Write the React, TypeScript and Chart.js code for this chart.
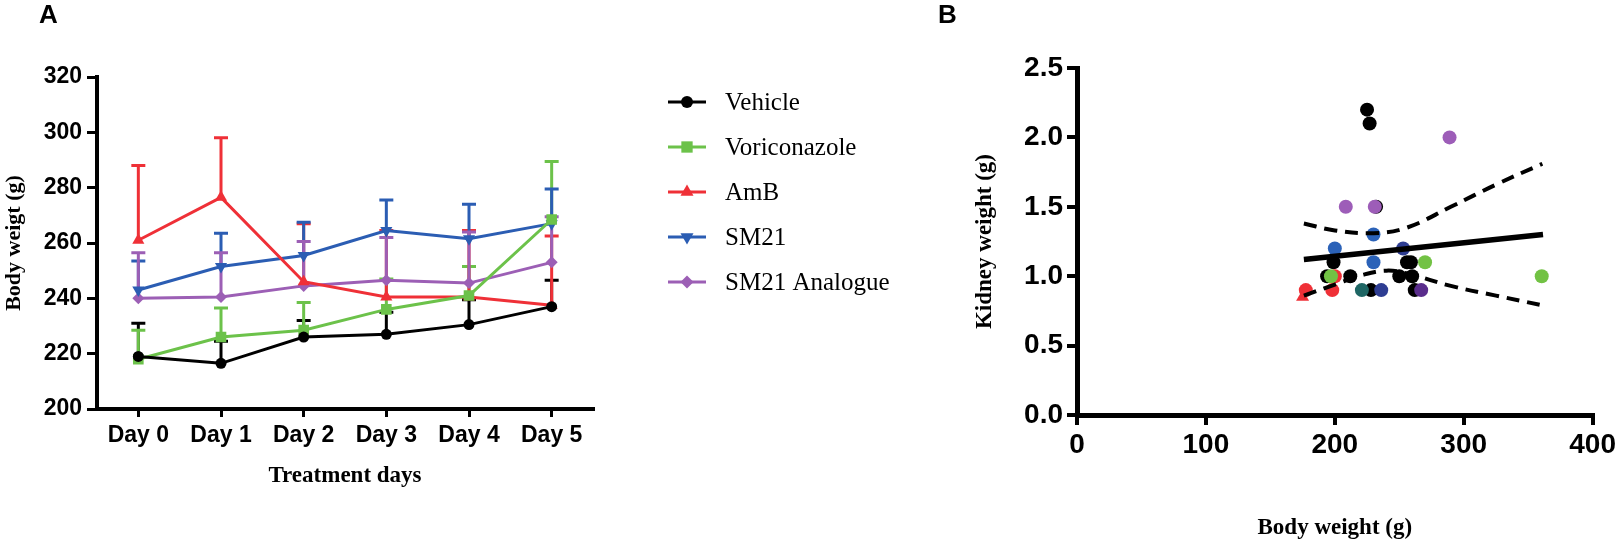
import React, { useEffect, useRef } from 'react';
import { Chart, registerables } from 'chart.js';
import { drawPoint } from 'chart.js/helpers';

Chart.register(...registerables);

// ---------- Panel A data ----------
const days = ['Day 0', 'Day 1', 'Day 2', 'Day 3', 'Day 4', 'Day 5'];
const yTicksA = [200, 220, 240, 260, 280, 300, 320];

const vehicleMean = [219, 216.5, 226, 227, 230.5, 237];
const vehicleErr = [12, 8, 6, 8, 9, 9.5];

const voriMean = [218, 226, 228.5, 236, 241, 268.5];
const voriErr = [10.5, 10.5, 10, 11, 10.5, 21];

const ambMean = [261, 276.5, 246, 240.5, 240.5, 237.5];
const ambErr = [27, 21.5, 21, 24, 24, 25];

const sm21Mean = [243, 251.5, 255.5, 264.5, 261.5, 267];
const sm21Err = [10.5, 12, 12, 11, 12.5, 12.5];

const analogueMean = [240, 240.5, 244.5, 246.5, 245.5, 253];
const analogueErr = [16.5, 16, 16, 15.5, 18.5, 16.5];

const seriesNames = ['Vehicle', 'Voriconazole', 'AmB', 'SM21', 'SM21 Analogue'];

// ---------- Panel B data ----------
const xTicksB = [0, 100, 200, 300, 400];
const yTicksB = [0, 0.5, 1.0, 1.5, 2.0, 2.5];

const blackX = [225, 227, 232, 199, 256, 259, 194, 212, 250, 260, 228, 262];
const blackY = [2.2, 2.1, 1.5, 1.1, 1.1, 1.1, 1.0, 1.0, 1.0, 1.0, 0.9, 0.9];

const purpleX = [289, 208.5, 231];
const purpleY = [2.0, 1.5, 1.5];

const blueX = [230, 200, 230];
const blueY = [1.3, 1.2, 1.1];

const darkBlueX = [253, 236];
const darkBlueY = [1.2, 0.9];

const greenX = [197, 270, 360.5];
const greenY = [1.0, 1.1, 1.0];

const redX = [177.5, 198, 200];
const redY = [0.9, 0.9, 1.0];

const tealX = [221];
const tealY = [0.9];

const darkPurpleX = [267];
const darkPurpleY = [0.9];

const redTriX = [175];
const redTriY = [0.85];

const fitX = [176, 361.5];
const fitY = [1.12, 1.3];

const upperCIX = [176, 200, 230, 256, 290, 325, 361];
const upperCIY = [1.38, 1.33, 1.31, 1.35, 1.5, 1.66, 1.81];

const lowerCIX = [176, 200, 222, 240, 256, 290, 325, 361];
const lowerCIY = [0.86, 0.94, 1.01, 1.04, 1.02, 0.93, 0.86, 0.79];

const toPts = (xs: number[], ys: number[]) => xs.map((x, i) => ({ x, y: ys[i] }));

const SANS = "'Liberation Sans', Arial, Helvetica, sans-serif";
const SERIF = "'Liberation Serif', 'Times New Roman', serif";

const errorBarPlugin = {
  id: 'errorBars',
  beforeDatasetsDraw(chart: any) {
    const { ctx } = chart;
    const xs = chart.scales.x;
    const ys = chart.scales.y;
    chart.data.datasets.forEach((ds: any) => {
      if (!ds.errors) return;
      ctx.save();
      ctx.strokeStyle = ds.borderColor;
      ctx.lineWidth = 3;
      ds.data.forEach((v: number, i: number) => {
        const x = xs.getPixelForValue(i);
        const y0 = ys.getPixelForValue(v);
        const y1 = ys.getPixelForValue(v + ds.errors[i]);
        ctx.beginPath();
        ctx.moveTo(x, y0);
        ctx.lineTo(x, y1);
        ctx.moveTo(x - 7, y1);
        ctx.lineTo(x + 7, y1);
        ctx.stroke();
      });
      ctx.restore();
    });
  },
};

const sideLegendPlugin = {
  id: 'sideLegend',
  afterDraw(chart: any) {
    const { ctx } = chart;
    const list = [...chart.data.datasets].sort((a: any, b: any) => a.legendIndex - b.legendIndex);
    list.forEach((ds: any, i: number) => {
      const y = 102 + i * 45;
      ctx.save();
      ctx.strokeStyle = ds.borderColor;
      ctx.lineWidth = 3;
      ctx.beginPath();
      ctx.moveTo(668, y);
      ctx.lineTo(706, y);
      ctx.stroke();
      ctx.fillStyle = ds.pointBackgroundColor;
      ctx.strokeStyle = ds.pointBackgroundColor;
      drawPoint(
        ctx,
        { pointStyle: ds.pointStyle, radius: ds.pointRadius + 0.5, rotation: ds.pointRotation || 0, borderWidth: 0 },
        687,
        y
      );
      ctx.fillStyle = '#000';
      ctx.font = `25px ${SERIF}`;
      ctx.textBaseline = 'middle';
      ctx.textAlign = 'left';
      ctx.fillText(ds.label, 725, y + 1);
      ctx.restore();
    });
  },
};

function ChartA() {
  const ref = useRef<HTMLCanvasElement>(null);
  useEffect(() => {
    const styles = [
      { color: '#000000', pointStyle: 'circle', radius: 5.5, rotation: 0, order: 0 },
      { color: '#6cc24a', pointStyle: 'rect', radius: 7.5, rotation: 0, order: 1 },
      { color: '#ef3037', pointStyle: 'triangle', radius: 7, rotation: 0, order: 2 },
      { color: '#2b5db3', pointStyle: 'triangle', radius: 7, rotation: 180, order: 3 },
      { color: '#9c5fb5', pointStyle: 'rectRot', radius: 6, rotation: 0, order: 4 },
    ];
    const means = [vehicleMean, voriMean, ambMean, sm21Mean, analogueMean];
    const errs = [vehicleErr, voriErr, ambErr, sm21Err, analogueErr];
    const datasets = seriesNames.map((name, i) => ({
      label: name,
      data: means[i],
      errors: errs[i],
      legendIndex: i,
      order: styles[i].order,
      borderColor: styles[i].color,
      backgroundColor: styles[i].color,
      pointBackgroundColor: styles[i].color,
      pointBorderColor: styles[i].color,
      pointBorderWidth: 0,
      pointStyle: styles[i].pointStyle,
      pointRadius: styles[i].radius,
      pointRotation: styles[i].rotation,
      borderWidth: 3,
      tension: 0,
      fill: false,
    }));
    const chart = new Chart(ref.current!, {
      type: 'line',
      data: { labels: days, datasets: datasets as any },
      options: {
        responsive: false,
        animation: false,
        devicePixelRatio: 1,
        layout: { padding: { top: 77, left: 0, right: 337, bottom: 0 } },
        plugins: { legend: { display: false }, tooltip: { enabled: false } },
        scales: {
          x: {
            offset: true,
            border: { color: '#000', width: 4 },
            grid: { drawOnChartArea: false, color: '#000', lineWidth: 3, tickLength: 8, offset: false },
            ticks: {
              color: '#000',
              font: { family: SANS, weight: 'bold', size: 23 },
              padding: 5,
              maxRotation: 0,
              autoSkip: false,
            },
            title: {
              display: true,
              text: 'Treatment days',
              color: '#000',
              font: { family: SERIF, weight: 'bold', size: 23 },
              padding: { top: 4, bottom: 53 },
            },
            afterFit(scale: any) {
              scale.height = 134;
            },
          },
          y: {
            min: yTicksA[0],
            max: yTicksA[yTicksA.length - 1],
            border: { color: '#000', width: 4 },
            grid: { drawOnChartArea: false, color: '#000', lineWidth: 3, tickLength: 10 },
            afterBuildTicks(scale: any) {
              scale.ticks = yTicksA.map((v) => ({ value: v }));
            },
            ticks: {
              color: '#000',
              font: { family: SANS, weight: 'bold', size: 23 },
              padding: 5,
            },
            title: {
              display: true,
              text: 'Body weigt (g)',
              color: '#000',
              font: { family: SERIF, weight: 'bold', size: 22 },
              padding: { top: 1, bottom: 4 },
            },
            afterFit(scale: any) {
              scale.width = 97;
            },
          },
        },
      } as any,
      plugins: [errorBarPlugin, sideLegendPlugin],
    });
    return () => chart.destroy();
  }, []);
  return (
    <canvas
      ref={ref}
      width={930}
      height={543}
      style={{ position: 'absolute', left: 0, top: 0, width: 930, height: 543 }}
    />
  );
}

function ChartB() {
  const ref = useRef<HTMLCanvasElement>(null);
  useEffect(() => {
    const dot = (xs: number[], ys: number[], color: string, style = 'circle') => ({
      type: 'scatter',
      data: toPts(xs, ys),
      backgroundColor: color,
      borderColor: color,
      pointBackgroundColor: color,
      pointBorderWidth: 0,
      pointRadius: style === 'triangle' ? 7.5 : 7,
      pointStyle: style,
      showLine: false,
    });
    const line = (xs: number[], ys: number[], dashed: boolean) => ({
      type: 'scatter',
      data: toPts(xs, ys),
      showLine: true,
      borderColor: '#000',
      borderWidth: dashed ? 4 : 5.5,
      borderDash: dashed ? [13, 8] : [],
      pointRadius: 0,
      tension: dashed ? 0.4 : 0,
      fill: false,
    });
    // Chart.js paints the first dataset on top, so the lines come first here.
    const chart = new Chart(ref.current!, {
      type: 'scatter',
      data: {
        datasets: [
          line(fitX, fitY, false),
          line(upperCIX, upperCIY, true),
          line(lowerCIX, lowerCIY, true),
          dot(redTriX, redTriY, '#ef3037', 'triangle'),
          dot(darkPurpleX, darkPurpleY, '#5a2d8c'),
          dot(purpleX, purpleY, '#9d5db8'),
          dot(greenX, greenY, '#72c244'),
          dot(blueX, blueY, '#2b62b8'),
          dot(darkBlueX, darkBlueY, '#2e3d92'),
          dot(redX, redY, '#ef3037'),
          dot(tealX, tealY, '#1e6664'),
          dot(blackX, blackY, '#000000'),
        ] as any,
      },
      options: {
        responsive: false,
        animation: false,
        devicePixelRatio: 1,
        layout: { padding: { top: 68, left: 0, right: 20, bottom: 0 } },
        plugins: { legend: { display: false }, tooltip: { enabled: false } },
        scales: {
          x: {
            type: 'linear',
            min: xTicksB[0],
            max: xTicksB[xTicksB.length - 1],
            border: { color: '#000', width: 5 },
            grid: { drawOnChartArea: false, color: '#000', lineWidth: 4, tickLength: 10 },
            afterBuildTicks(scale: any) {
              scale.ticks = xTicksB.map((v) => ({ value: v }));
            },
            ticks: {
              color: '#000',
              font: { family: SANS, weight: 'bold', size: 28 },
              padding: 3,
              maxRotation: 0,
            },
            title: {
              display: true,
              text: 'Body weight (g)',
              color: '#000',
              font: { family: SERIF, weight: 'bold', size: 23 },
              padding: { top: 4, bottom: 1 },
            },
            afterFit(scale: any) {
              scale.height = 128;
            },
          },
          y: {
            type: 'linear',
            min: yTicksB[0],
            max: yTicksB[yTicksB.length - 1],
            border: { color: '#000', width: 5 },
            grid: { drawOnChartArea: false, color: '#000', lineWidth: 4, tickLength: 10 },
            afterBuildTicks(scale: any) {
              scale.ticks = yTicksB.map((v) => ({ value: v }));
            },
            ticks: {
              color: '#000',
              font: { family: SANS, weight: 'bold', size: 28 },
              padding: 4,
              callback: (v: any) => Number(v).toFixed(1),
            },
            title: {
              display: true,
              text: 'Kidney weight (g)',
              color: '#000',
              font: { family: SERIF, weight: 'bold', size: 23 },
              padding: { top: 41, bottom: 4 },
            },
            afterFit(scale: any) {
              scale.width = 147;
            },
          },
        },
      } as any,
    });
    return () => chart.destroy();
  }, []);
  return (
    <canvas
      ref={ref}
      width={689}
      height={543}
      style={{ position: 'absolute', left: 930, top: 0, width: 689, height: 543 }}
    />
  );
}

export default function App() {
  useEffect(() => {
    document.body.style.margin = '0';
    document.body.style.overflow = 'hidden';
  }, []);
  const panelLabel: React.CSSProperties = {
    position: 'absolute',
    top: 1,
    fontFamily: SANS,
    fontWeight: 'bold',
    fontSize: 26,
    lineHeight: 1,
    color: '#000',
  };
  return (
    <div style={{ position: 'relative', width: 1619, height: 543, overflow: 'hidden', background: '#fff' }}>
      <ChartA />
      <ChartB />
      <div style={{ ...panelLabel, left: 39 }}>A</div>
      <div style={{ ...panelLabel, left: 938 }}>B</div>
    </div>
  );
}
